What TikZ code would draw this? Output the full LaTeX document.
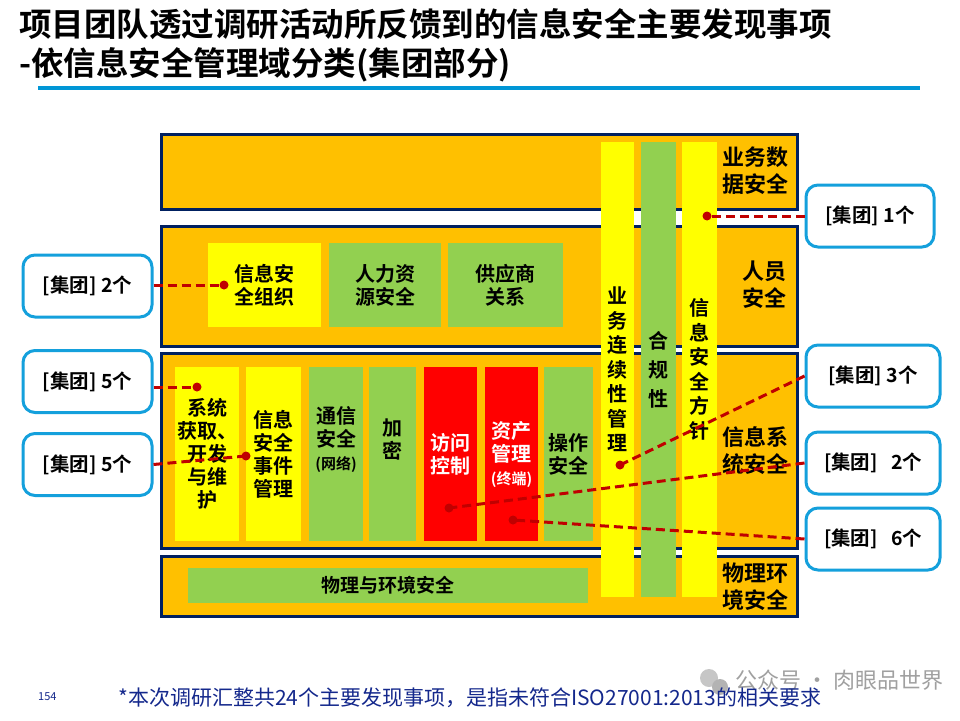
\documentclass[tikz,border=0pt]{standalone}
\usepackage{fontspec}
\setmainfont{Noto Sans CJK SC}[BoldFont={Noto Sans CJK SC Bold}]
\definecolor{navy}{RGB}{0,32,96}
\definecolor{orangeF}{RGB}{255,192,0}
\definecolor{yel}{RGB}{255,255,0}
\definecolor{grn}{RGB}{146,208,80}
\definecolor{red0}{RGB}{255,0,0}
\definecolor{cblue}{RGB}{20,160,220}
\definecolor{cred}{RGB}{192,0,0}
\definecolor{rule}{RGB}{0,150,214}
\definecolor{foot}{RGB}{20,40,140}
\definecolor{wm}{RGB}{160,160,160}
\begin{document}
\begin{tikzpicture}[x=1pt,y=-1pt,
  band/.style={draw=navy,line width=3pt,fill=orangeF,inner sep=0pt},
  cell/.style={inner sep=0pt,align=center,font=\bfseries\fontsize{20}{23}\selectfont},
  ybox/.style={cell,fill=yel},
  gbox/.style={cell,fill=grn},
  rbox/.style={cell,fill=red0,text=white},
  vbar/.style={inner sep=0pt,align=center,minimum height=455,font=\bfseries\fontsize{20}{24.5}\selectfont},
  side/.style={inner sep=0pt,align=center,font=\bfseries\fontsize{22}{27}\selectfont},
  callout/.style={draw=cblue,line width=3pt,fill=white,rounded corners=12pt,inner sep=0pt,minimum height=62,font=\bfseries\fontsize{19.5}{22}\selectfont},
  conn/.style={draw=cred,line width=3pt,dash pattern=on 9pt off 5pt},
  dotc/.style={fill=cred}
]
\useasboundingbox (0,0) rectangle (960,720);
% title
\node[anchor=west,inner sep=0pt,font=\bfseries\fontsize{32.5}{36}\selectfont] (t1) at (19,24) {项目团队透过调研活动所反馈到的信息安全主要发现事项};
\node[anchor=west,inner sep=0pt,font=\bfseries\fontsize{32.5}{36}\selectfont] (t2) at (19,65) {-依信息安全管理域分类(集团部分)};
\coordinate (r1) at (38,88);
\coordinate (r2) at (920,88);
\draw[rule,line width=3.5pt] (r1) -- (r2);
% bands
\node[band,minimum width=636,minimum height=75] (b1) at (479.5,172) {};
\node[band,minimum width=636,minimum height=120] (b2) at (479.5,286) {};
\node[band,minimum width=636,minimum height=195] (b3) at (479.5,451) {};
\node[band,minimum width=636,minimum height=60] (b4) at (479.5,586.5) {};
% band 2 boxes
\node[ybox,minimum width=113,minimum height=84] (org) at (264.5,285) {信息安\\全组织};
\node[gbox,minimum width=112,minimum height=84] (hr) at (385,285) {人力资\\源安全};
\node[gbox,minimum width=115,minimum height=84] (sup) at (505.5,285) {供应商\\关系};
% band 3 boxes
\node[ybox,minimum width=64,minimum height=174] (sys) at (207,454) {系统\\获取、\\开发\\与维\\护};
\node[ybox,minimum width=55,minimum height=174] (inc) at (273.5,454) {信息\\安全\\事件\\管理};
\node[gbox,minimum width=54,minimum height=174] (com) at (336,454) {通信\\安全\\{\fontsize{15}{18}\selectfont(网络)}\\[10pt]};
\node[gbox,minimum width=47,minimum height=174] (cry) at (392.5,454) {加\\密\\[8pt]};
\node[rbox,minimum width=53,minimum height=174] (acc) at (450.5,454) {访问\\控制};
\node[rbox,minimum width=53,minimum height=174] (ast) at (511.5,454) {资产\\管理\\{\fontsize{15}{18}\selectfont(终端)}};
\node[gbox,minimum width=49,minimum height=174] (ops) at (568.5,454) {操作\\安全};
% band 4 box
\node[gbox,minimum width=400,minimum height=35,font=\bfseries\fontsize{19}{22}\selectfont] (phy) at (388,585.5) {物理与环境安全};
% vertical bars
\node[vbar,fill=yel,minimum width=33] (bcm) at (617.5,369.5) {业\\务\\连\\续\\性\\管\\理};
\node[vbar,fill=grn,minimum width=35,font=\bfseries\fontsize{20}{29}\selectfont] (cmp) at (658.5,369.5) {合\\规\\性};
\node[vbar,fill=yel,minimum width=35] (pol) at (699.5,369.5) {信\\息\\安\\全\\方\\针};
% side labels
\node[side] (s1) at (755,171) {业务数\\据安全};
\node[side] (s2) at (764,285) {人员\\安全};
\node[side] (s3) at (755,451) {信息系\\统安全};
\node[side] (s4) at (755,587) {物理环\\境安全};
% callouts
\node[callout,minimum width=129] (cL1) at (87.5,286) {[集团] 2个};
\node[callout,minimum width=129] (cL2) at (87.5,381.5) {[集团] 5个};
\node[callout,minimum width=129] (cL3) at (87.5,464.5) {[集团] 5个};
\node[callout,minimum width=128] (cR1) at (870,216) {[集团] 1个};
\node[callout,minimum width=134] (cR2) at (873,376) {[集团] 3个};
\node[callout,minimum width=134] (cR3) at (873,463) {[集团]\ \ \ 2个};
\node[callout,minimum width=134] (cR4) at (873,539) {[集团]\ \ \ 6个};
% connectors
\coordinate (d1) at (224,285);
\coordinate (d2) at (197,387);
\coordinate (d3) at (246,456);
\coordinate (d4) at (707,216);
\coordinate (d5) at (620,465);
\coordinate (d6) at (449,508);
\coordinate (d7) at (513,520);
\draw[conn] (cL1.east |- d1) -- (d1);
\draw[conn] (cL2.east |- d2) -- (d2);
\draw[conn] (cL3.east) -- (d3);
\draw[conn] (cR1.west) -- (d4);
\draw[conn] (cR2.west) -- (d5);
\draw[conn] (cR3.west) -- (d6);
\draw[conn] (cR4.west) -- (d7);
\foreach \d in {d1,d2,d3,d4,d5,d6,d7} \fill[dotc] (\d) circle (4.5);
% footer
\node[anchor=west,inner sep=0pt,text=foot,font=\fontsize{11}{13}\selectfont] (pg) at (38,697) {154};
% watermark
\fill[wm!60] (709,678) circle (9);
\fill[wm!80] (720,687) circle (8);
\node[anchor=west,inner sep=0pt,text=wm,font=\fontsize{22}{25}\selectfont] (wmt) at (735,680) {公众号 · 肉眼品世界};
\node[anchor=west,inner sep=0pt,text=foot,font=\fontsize{21}{24}\selectfont] (ft) at (118,698) {*本次调研汇整共24个主要发现事项，是指未符合ISO27001:2013的相关要求};
\end{tikzpicture}
\end{document}
